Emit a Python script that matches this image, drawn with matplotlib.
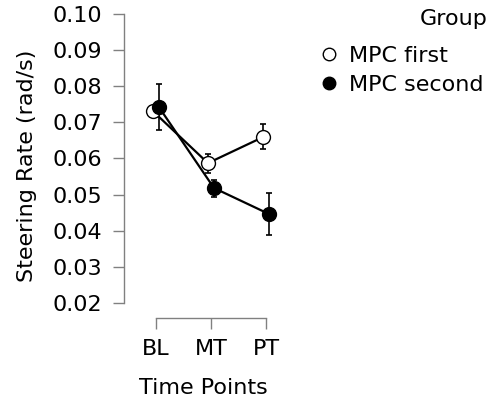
import matplotlib
matplotlib.use("Agg")
import matplotlib.pyplot as plt
import numpy as np

# ── Data ──────────────────────────────────────────────────────────────────────
time_points = ["BL", "MT", "PT"]
groups = ["MPC first", "MPC second"]

first_mean  = [0.0731, 0.0587, 0.0659]
first_lo    = [0.0716, 0.0560, 0.0626]
first_hi    = [0.0746, 0.0612, 0.0695]

second_mean = [0.0742, 0.0518, 0.0446]
second_lo   = [0.0679, 0.0493, 0.0388]
second_hi   = [0.0806, 0.0540, 0.0504]

yticks = [0.02, 0.03, 0.04, 0.05, 0.06, 0.07, 0.08, 0.09, 0.10]

# ── Figure ────────────────────────────────────────────────────────────────────
plt.rcParams['font.family'] = ['DejaVu Sans']
FS = 16
fig = plt.figure(figsize=(4.94, 4.05), dpi=100)
ax = fig.add_axes([124 / 494, 87 / 405, 158.5 / 494, 304 / 405])

x = np.arange(len(time_points))
dodge = 0.055
grey = "#808080"

series = [
    (first_mean, first_lo, first_hi, "white", -dodge),
    (second_mean, second_lo, second_hi, "black", dodge),
]
for (mean, lo, hi, face, off), name in zip(series, groups):
    mean = np.array(mean); lo = np.array(lo); hi = np.array(hi)
    xs = x + off
    ax.errorbar(xs, mean, yerr=[mean - lo, hi - mean], fmt="none",
                ecolor="black", elinewidth=1.2, capsize=2.5, capthick=1.2, zorder=2)
    ax.plot(xs, mean, "-", color="black", lw=1.6, zorder=3)
    ax.plot(xs, mean, "o", ms=10, mfc=face, mec="black", mew=1.0,
            linestyle="none", label=name, zorder=4)

ax.set_xlim(-0.58, 2.3)
ax.set_ylim(0.0158, 0.10)
ax.set_xticks(x)
ax.set_xticklabels(time_points)
ax.set_yticks(yticks)
ax.set_yticklabels([f"{t:.2f}" for t in yticks])

for s in ["top", "right"]:
    ax.spines[s].set_visible(False)
ax.spines["left"].set_bounds(0.02, 0.10)
ax.spines["bottom"].set_bounds(0, 2)
for s in ["left", "bottom"]:
    ax.spines[s].set_color(grey)
    ax.spines[s].set_linewidth(1.0)
ax.tick_params(axis="both", colors=grey, labelcolor="black", length=8,
               width=1.0, labelsize=FS)
ax.tick_params(axis="y", pad=8)
ax.tick_params(axis="x", pad=7)

ax.set_ylabel("Steering Rate (rad/s)", fontsize=FS, labelpad=11)
ax.set_xlabel("Time Points", fontsize=FS, labelpad=14)

leg = ax.legend(loc="upper left", bbox_to_anchor=(312 / 494, 1 - 39 / 405),
                bbox_transform=fig.transFigure, frameon=False, fontsize=FS,
                handletextpad=0.45, labelspacing=0.42,
                markerscale=0.9, handlelength=0.9,
                borderaxespad=0.0, borderpad=0.3)
fig.text(488 / 494, 1 - 9 / 405, "Group", ha="right", va="top", fontsize=FS)

plt.savefig("out.png", dpi=100)
